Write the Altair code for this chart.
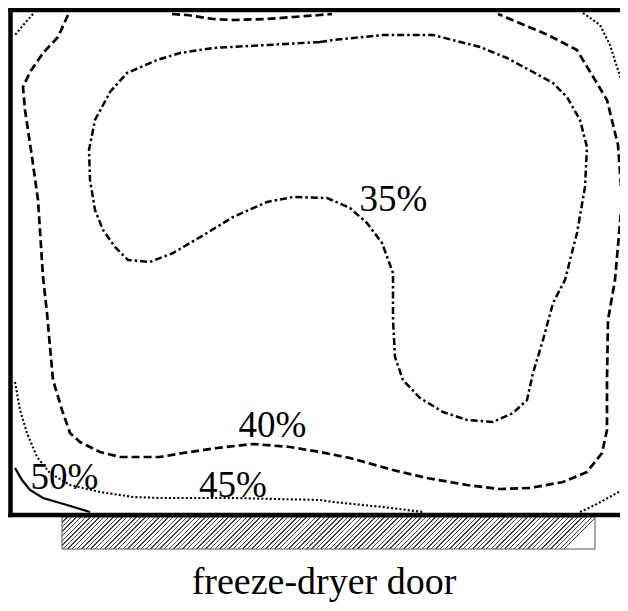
import altair as alt
import pandas as pd

# ---- contour data (picture coordinates: x to the right, y downward) ----
c35_x = [320, 267, 213, 180, 157, 127, 110, 95, 89, 90, 95, 103, 115, 128, 150, 173, 207, 233, 267, 293, 327, 350, 367, 382, 393, 393, 395, 403, 420, 443, 467, 493, 513, 527, 533, 543, 553, 565, 577, 585, 587, 580, 567, 553, 533, 507, 480, 433, 383, 333, 320]
c35_y = [42, 45, 48, 53, 60, 73, 92, 120, 150, 180, 210, 230, 247, 260, 262, 253, 233, 217, 202, 197, 198, 208, 223, 243, 273, 320, 357, 380, 398, 412, 420, 422, 413, 400, 373, 340, 303, 280, 233, 187, 147, 120, 97, 83, 72, 58, 47, 35, 35, 40, 42]

c40a_x = [68, 58, 43, 30, 23, 25, 32, 38, 43, 47, 50, 53, 62, 70, 80, 100, 120, 160, 183, 217, 253, 290, 320, 350, 393, 427, 467, 500, 530, 563, 587, 602, 607, 607, 608, 615, 622, 618, 607, 577, 548, 498]
c40a_y = [15, 37, 53, 72, 87, 110, 157, 200, 277, 313, 347, 380, 410, 433, 442, 452, 457, 457, 453, 448, 444, 447, 452, 458, 470, 478, 485, 489, 488, 482, 472, 453, 430, 380, 320, 280, 200, 145, 100, 50, 35, 14]

c40b_x = [172, 187, 213, 233, 267, 293, 320, 332]
c40b_y = [14, 15, 19, 20, 19, 17, 15, 14]

c45a_x = [15, 20, 27, 37, 50, 70, 100, 133, 160, 233, 320, 333, 383, 423]
c45a_y = [382, 410, 433, 457, 473, 485, 492, 497, 498, 498, 500, 502, 507, 512]
c45b_x = [580, 595, 615, 628]
c45b_y = [512, 505, 494, 487]
c45c_x = [583, 600, 610, 617, 623, 628]
c45c_y = [13, 25, 45, 67, 85, 100]
c45d_x = [33, 25, 15]
c45d_y = [14, 23, 35]

c50_x = [15, 22, 30, 43, 67, 90]
c50_y = [468, 480, 490, 498, 505, 512]

label_text = ["35%", "40%", "45%", "50%"]
label_x = [393.5, 272.5, 233, 64.5]
label_y = [211, 437, 497, 489]

frame_x = [10.5, 628]
frame_top = 10
frame_bottom = 515
door_x = [62, 595]
door_y = [517, 549]
door_text = "freeze-dryer door"
door_text_x = 324
door_text_y = 594

# ---- build tables ----
def seg(name, level, xs, ys):
    return pd.DataFrame({"x": xs, "y": ys, "seg": name, "level": level,
                         "i": range(len(xs))})

lines = pd.concat([
    seg("c35", "35%", c35_x, c35_y),
    seg("c40a", "40%", c40a_x, c40a_y),
    seg("c40b", "40%", c40b_x, c40b_y),
    seg("c45a", "45%", c45a_x, c45a_y),
    seg("c45b", "45%", c45b_x, c45b_y),
    seg("c45c", "45%", c45c_x, c45c_y),
    seg("c45d", "45%", c45d_x, c45d_y),
    seg("c50", "50%", c50_x, c50_y),
], ignore_index=True)

W, H = 612, 595
xs = alt.Scale(domain=[8, 8 + W], zero=False, nice=False)
ys = alt.Scale(domain=[8, 8 + H], zero=False, nice=False, reverse=True)

def X(f="x"):
    return alt.X(f"{f}:Q", scale=xs, axis=None)

def Y(f="y"):
    return alt.Y(f"{f}:Q", scale=ys, axis=None)

base = alt.Chart(lines)

def contour(level, dash, width):
    return base.transform_filter(alt.datum.level == level).mark_line(
        color="black", strokeWidth=width, strokeDash=dash, strokeCap="butt", clip=True
    ).encode(x=X(), y=Y(), detail="seg:N", order="i:Q")

l35 = contour("35%", [7, 3, 2.5, 3], 2.5)
l40 = contour("40%", [8, 4], 2.7)
l45 = contour("45%", [2, 2.2], 2.1)
l50 = base.transform_filter(alt.datum.level == "50%").mark_line(
    color="black", strokeWidth=2.3).encode(x=X(), y=Y(), detail="seg:N", order="i:Q")

labels = alt.Chart(pd.DataFrame({"t": label_text, "x": label_x, "y": label_y})).mark_text(
    font="Liberation Serif", fontSize=37, baseline="alphabetic", align="center", color="black"
).encode(x=X(), y=Y(), text="t:N")

# frame (top, bottom, left)
frame_df = pd.DataFrame({
    "x": [frame_x[0], frame_x[0], frame_x[0]],
    "x2": [frame_x[1], frame_x[1], frame_x[0]],
    "y": [frame_top, frame_bottom, frame_top],
    "y2": [frame_top, frame_bottom, frame_bottom],
})
frame = alt.Chart(frame_df).mark_rule(color="black", strokeWidth=4.5, strokeCap="square", clip=True).encode(
    x=X(), x2="x2:Q", y=Y(), y2="y2:Q")

# hatched door (hatching as a striped gradient style)
dw = door_x[1] - door_x[0]
dh = door_y[1] - door_y[0]
r = dh / dw
period = 4.6 / (dw * (1 + r * r))
stops = []
k = 0
while k * period < 1:
    t0 = k * period
    t1 = min(t0 + 0.32 * period, 1)
    t2 = min(t0 + period, 1)
    stops += [alt.GradientStop(color="#444444", offset=t0),
              alt.GradientStop(color="#444444", offset=t1),
              alt.GradientStop(color="#ffffff", offset=t1),
              alt.GradientStop(color="#ffffff", offset=t2)]
    k += 1
hatch = alt.LinearGradient(gradient="linear", stops=stops, x1=0, y1=0, x2=1, y2=r)

door = alt.Chart(pd.DataFrame({"x": [door_x[0]], "x2": [door_x[1]],
                               "y": [door_y[0]], "y2": [door_y[1]]})).mark_rect(
    fill=hatch, stroke="#555555", strokeWidth=1
).encode(x=X(), x2="x2:Q", y=Y(), y2="y2:Q")

door_label = alt.Chart(pd.DataFrame({"t": [door_text], "x": [door_text_x], "y": [door_text_y]})).mark_text(
    font="Liberation Serif", fontSize=38, baseline="alphabetic", align="center", color="black"
).encode(x=X(), y=Y(), text="t:N")

chart = alt.layer(door, l35, l40, l45, l50, frame, labels, door_label).properties(
    width=W, height=H, padding=0, autosize=alt.AutoSizeParams(type="none"),
    background="white"
).configure_view(stroke=None)

chart.save("out.html", embed_options={"renderer": "svg", "actions": False})
